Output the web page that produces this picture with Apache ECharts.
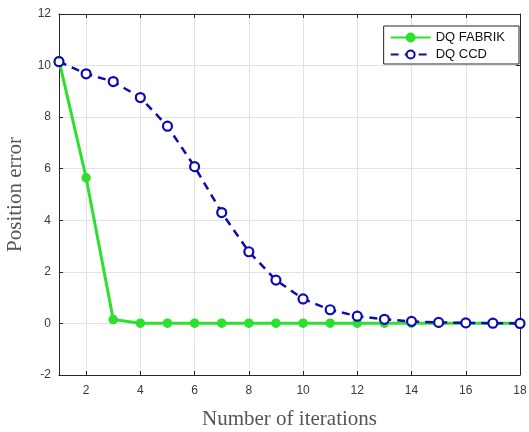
<!DOCTYPE html>
<html><head><meta charset="utf-8">
<script src="https://cdn.jsdelivr.net/npm/echarts@6/dist/echarts.min.js"></script>
<style>html,body{margin:0;padding:0;background:#fff}#c{width:529px;height:432px}</style>
</head><body><div id="c"></div>
<script>
var iterations = [1,2,3,4,5,6,7,8,9,10,11,12,13,14,15,16,17,18];
var fabrik = [10.2,5.65,0.15,0.01,0.01,0.01,0.01,0.01,0.01,0.01,0.01,0.01,0.01,0.01,0.01,0.01,0.01,0.01];
var ccd = [10.15,9.68,9.38,8.76,7.65,6.08,4.3,2.78,1.68,0.95,0.53,0.28,0.16,0.08,0.04,0.02,0.01,0.0];
var yTicks = {min:-2, max:12, interval:2};

var axisColor = '#262626';
var labelFont = {fontFamily:'Liberation Sans, Arial, sans-serif', fontSize:12, color:'#3a3a3a'};
var titleFont = {fontFamily:'Liberation Serif, Times New Roman, serif', fontSize:21, color:'#555'};
var even = function(i, v){ return Number(v) % 2 === 0; };

var chart = echarts.init(document.getElementById('c'));
chart.setOption({
  animation:false,
  backgroundColor:'#fff',
  grid:{left:59, right:9, top:14, bottom:57, containLabel:false, outerBoundsMode:'none'},
  legend:{
    orient:'vertical', right:10, top:26,
    backgroundColor:'#fff', borderColor:'#262626', borderWidth:1, borderRadius:0,
    padding:[5,14,3,6], itemGap:4, itemWidth:40, itemHeight:10,
    textStyle:{fontFamily:'Liberation Sans, Arial, sans-serif', fontSize:13, color:'#111'},
    data:['DQ FABRIK','DQ CCD']
  },
  xAxis:[{
    type:'category', data:iterations, boundaryGap:false, position:'bottom',
    name:'Number of iterations', nameLocation:'middle', nameGap:34,
    nameTextStyle:titleFont,
    axisLine:{show:true, onZero:false, lineStyle:{color:axisColor, width:1}},
    axisTick:{show:true, inside:true, length:4, interval:even, lineStyle:{color:axisColor}},
    axisLabel:Object.assign({interval:even, margin:10}, labelFont),
    splitLine:{show:true, interval:even, lineStyle:{color:'#e2e2e2', width:1}}
  },{
    type:'category', data:iterations, boundaryGap:false, position:'top',
    axisLine:{show:true, onZero:false, lineStyle:{color:axisColor, width:1}},
    axisTick:{show:true, inside:true, length:4, interval:even, lineStyle:{color:axisColor}},
    axisLabel:{show:false}, splitLine:{show:false}
  }],
  yAxis:[{
    type:'value', min:yTicks.min, max:yTicks.max, interval:yTicks.interval, position:'left',
    name:'Position error', nameLocation:'middle', nameGap:33, nameRotate:90,
    nameTextStyle:titleFont,
    axisLine:{show:true, onZero:false, lineStyle:{color:axisColor, width:1}},
    axisTick:{show:true, inside:true, length:4, lineStyle:{color:axisColor}},
    axisLabel:Object.assign({margin:8}, labelFont),
    splitLine:{show:true, lineStyle:{color:'#e2e2e2', width:1}}
  },{
    type:'value', min:yTicks.min, max:yTicks.max, interval:yTicks.interval, position:'right',
    axisLine:{show:true, onZero:false, lineStyle:{color:axisColor, width:1}},
    axisTick:{show:true, inside:true, length:4, lineStyle:{color:axisColor}},
    axisLabel:{show:false}, splitLine:{show:false}
  }],
  series:[{
    name:'DQ FABRIK', type:'line', data:fabrik, xAxisIndex:0, yAxisIndex:0,
    symbol:'circle', symbolSize:8, showSymbol:true,
    lineStyle:{color:'#2ee02e', width:3},
    itemStyle:{color:'#2ee02e', borderColor:'#2ee02e', borderWidth:1.5},
    z:2
  },{
    name:'DQ CCD', type:'line', data:ccd, xAxisIndex:0, yAxisIndex:0,
    symbol:'circle', symbolSize:9, showSymbol:true,
    lineStyle:{color:'#0c0cb0', width:2.5, type:[8,6]},
    itemStyle:{color:'#ffffff', borderColor:'#0c0cb0', borderWidth:2.2},
    z:3
  }]
});
</script></body></html>
